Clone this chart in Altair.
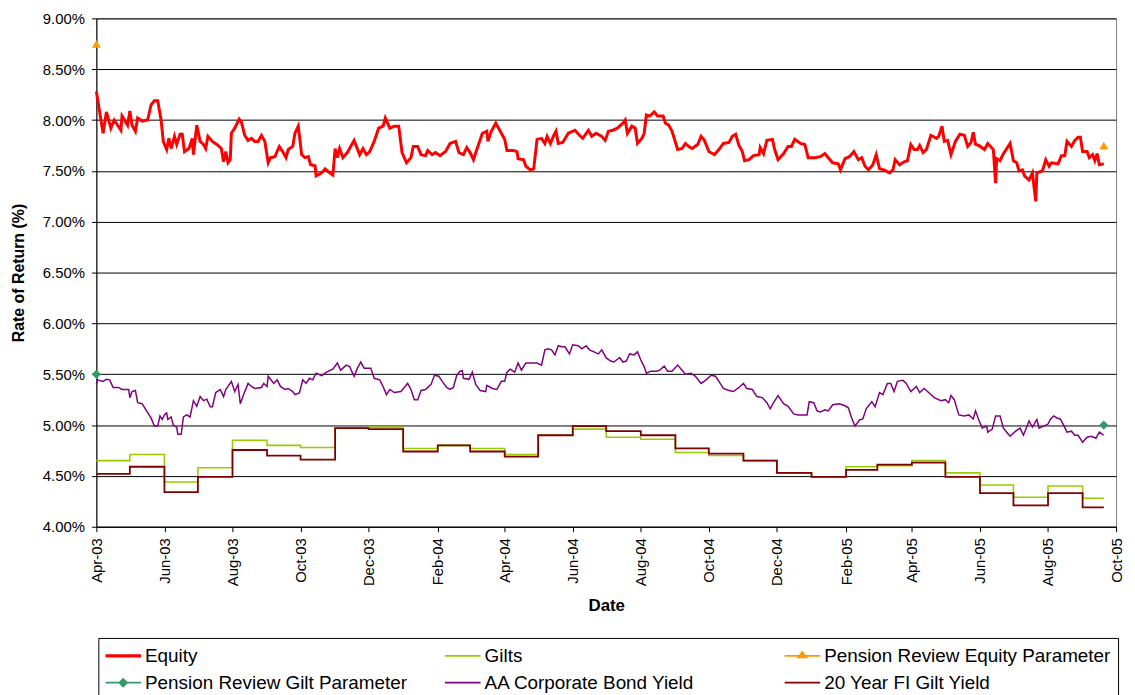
import altair as alt
import pandas as pd

START = "2003-04-01"
END_DATE = "2005-09-20"

series_names = ["Equity", "Gilts", "Pension Review Equity Parameter",
                "Pension Review Gilt Parameter", "AA Corporate Bond Yield",
                "20 Year FI Gilt Yield"]
series_colors = ["#FF0000", "#99CC00", "#FF9900", "#339966", "#800080", "#800000"]

# Equity: days since 2003-04-01 and rate (%)
equity_days = [0, 6, 9, 13, 16, 22, 23, 28, 30, 32, 35, 37, 41, 46, 49, 52, 55, 58, 60, 63,
               65, 67, 70, 72, 75, 77, 79, 83, 86, 87, 90, 93, 96, 98, 100, 104, 108, 112, 114, 116,
               118, 120, 121, 124, 128, 130, 133, 136, 139, 142, 145, 148, 151, 154, 156, 160, 164, 167, 170, 172,
               176, 178, 181, 184, 187, 190, 192, 196, 197, 202, 205, 208, 212, 214, 216, 218, 221, 225, 231, 236,
               239, 242, 245, 249, 253, 257, 259, 263, 267, 271, 274, 278, 282, 284, 288, 291, 295, 297, 301, 304,
               308, 313, 317, 322, 325, 329, 332, 335, 338, 341, 346, 350, 351, 354, 358, 362, 366, 368, 374, 377,
               378, 383, 385, 389, 392, 395, 399, 402, 404, 407, 410, 412, 414, 418, 423, 429, 433, 436, 441, 444,
               448, 453, 456, 459, 463, 467, 472, 474, 476, 480, 483, 485, 489, 491, 493, 496, 500, 503, 508, 510,
               513, 516, 521, 525, 528, 531, 534, 539, 542, 545, 549, 554, 558, 562, 567, 570, 573, 576, 579, 581,
               585, 589, 594, 595, 598, 601, 606, 608, 611, 616, 620, 623, 626, 631, 635, 638, 644, 649, 653, 656,
               660, 665, 667, 671, 675, 679, 683, 686, 689, 692, 696, 699, 702, 706, 711, 714, 716, 720, 724, 727,
               730, 733, 736, 738, 741, 744, 748, 753, 755, 758, 760, 763, 766, 770, 774, 778, 781, 784, 786, 788,
               791, 796, 799, 804, 806, 807, 810, 813, 819, 822, 825, 827, 830, 832, 836, 839, 842, 843, 848, 851,
               854, 856, 862, 865, 868, 870, 874, 877, 880, 882, 884, 888, 890, 893, 895, 897, 899, 903]
equity_vals = [8.28, 7.87, 8.08, 7.92, 8.00, 7.90, 8.04, 7.95, 8.09, 7.95, 7.89, 8.02, 7.99, 8.00, 8.15, 8.19, 8.19, 8.00, 7.79, 7.71,
               7.82, 7.72, 7.84, 7.76, 7.86, 7.86, 7.69, 7.72, 7.82, 7.66, 7.95, 7.79, 7.76, 7.72, 7.84, 7.79, 7.76, 7.72, 7.59, 7.69,
               7.58, 7.61, 7.87, 7.92, 8.01, 7.98, 7.85, 7.80, 7.82, 7.79, 7.79, 7.85, 7.79, 7.58, 7.63, 7.64, 7.74, 7.69, 7.63, 7.71,
               7.74, 7.87, 7.94, 7.66, 7.63, 7.64, 7.56, 7.55, 7.45, 7.48, 7.52, 7.49, 7.46, 7.72, 7.63, 7.72, 7.63, 7.68, 7.80, 7.66,
               7.72, 7.66, 7.69, 7.79, 7.92, 7.94, 8.02, 7.92, 7.94, 7.94, 7.68, 7.58, 7.63, 7.74, 7.74, 7.66, 7.65, 7.70, 7.66, 7.68,
               7.65, 7.69, 7.77, 7.79, 7.68, 7.66, 7.73, 7.68, 7.61, 7.71, 7.87, 7.89, 7.79, 7.89, 7.97, 7.89, 7.81, 7.70, 7.70, 7.69,
               7.62, 7.61, 7.545, 7.51, 7.52, 7.81, 7.82, 7.77, 7.84, 7.77, 7.85, 7.89, 7.77, 7.78, 7.87, 7.90, 7.85, 7.82, 7.90, 7.84,
               7.87, 7.84, 7.80, 7.89, 7.90, 7.92, 7.97, 8.00, 7.87, 7.94, 7.92, 7.77, 7.82, 7.87, 8.05, 8.04, 8.08, 8.04, 8.04, 7.97,
               7.95, 7.89, 7.71, 7.72, 7.77, 7.74, 7.72, 7.76, 7.84, 7.80, 7.69, 7.66, 7.71, 7.77, 7.78, 7.84, 7.86, 7.75, 7.69, 7.60,
               7.61, 7.65, 7.66, 7.73, 7.67, 7.80, 7.81, 7.71, 7.61, 7.67, 7.74, 7.74, 7.81, 7.77, 7.76, 7.63, 7.63, 7.64, 7.67, 7.63,
               7.58, 7.57, 7.51, 7.62, 7.64, 7.69, 7.61, 7.63, 7.545, 7.51, 7.56, 7.66, 7.52, 7.51, 7.48, 7.51, 7.61, 7.56, 7.59, 7.60,
               7.76, 7.71, 7.71, 7.75, 7.68, 7.71, 7.85, 7.82, 7.84, 7.94, 7.79, 7.80, 7.66, 7.79, 7.86, 7.85, 7.74, 7.78, 7.88, 7.76,
               7.75, 7.71, 7.77, 7.71, 7.38, 7.62, 7.60, 7.67, 7.77, 7.60, 7.58, 7.50, 7.51, 7.45, 7.41, 7.48, 7.20, 7.48, 7.50, 7.61,
               7.545, 7.58, 7.57, 7.65, 7.65, 7.79, 7.74, 7.80, 7.83, 7.83, 7.69, 7.69, 7.63, 7.66, 7.60, 7.67, 7.56, 7.57]

# AA Corporate Bond Yield: days since 2003-04-01 and rate (%)
aa_days = [0, 1, 6, 9, 12, 15, 20, 23, 29, 30, 32, 35, 37, 41, 45, 49, 52, 55, 57, 59,
           61, 63, 64, 67, 69, 72, 73, 76, 78, 81, 84, 87, 90, 93, 96, 99, 102, 104, 107, 111,
           114, 116, 118, 121, 124, 127, 129, 132, 136, 139, 142, 148, 150, 153, 154, 159, 162, 165, 169, 172,
           176, 178, 182, 185, 188, 191, 194, 197, 202, 205, 208, 212, 216, 219, 224, 227, 231, 234, 237, 240,
           246, 249, 254, 257, 260, 263, 267, 273, 279, 282, 285, 288, 291, 295, 300, 303, 307, 310, 314, 317,
           320, 323, 326, 328, 329, 334, 337, 340, 344, 349, 350, 355, 359, 363, 366, 368, 371, 375, 378, 381,
           385, 389, 395, 399, 402, 405, 408, 411, 414, 417, 420, 424, 427, 432, 435, 439, 442, 446, 450, 453,
           457, 461, 464, 469, 472, 475, 478, 482, 485, 488, 491, 493, 497, 502, 505, 509, 512, 516, 521, 525,
           528, 533, 537, 542, 546, 551, 555, 558, 562, 567, 571, 576, 580, 583, 588, 592, 597, 601, 604, 607,
           611, 616, 620, 625, 629, 637, 639, 643, 646, 649, 653, 656, 660, 666, 671, 674, 677, 680, 684, 687,
           690, 695, 698, 702, 705, 709, 712, 715, 718, 723, 726, 730, 735, 738, 742, 747, 751, 757, 761, 764,
           766, 769, 773, 778, 782, 786, 788, 791, 794, 798, 799, 803, 806, 810, 813, 816, 819, 824, 828, 831,
           836, 839, 843, 845, 849, 853, 855, 858, 861, 864, 867, 870, 874, 877, 880, 884, 888, 892, 896, 899,
           903]
aa_vals = [5.40, 5.445, 5.43, 5.45, 5.445, 5.37, 5.37, 5.35, 5.35, 5.27, 5.33, 5.34, 5.22, 5.21, 5.14, 5.07, 4.99, 4.99, 5.09, 5.055,
           5.10, 5.12, 5.055, 5.08, 5.00, 4.98, 4.91, 4.91, 5.08, 5.10, 5.08, 5.24, 5.185, 5.28, 5.24, 5.255, 5.18, 5.18, 5.32, 5.35,
           5.28, 5.35, 5.38, 5.43, 5.33, 5.40, 5.21, 5.30, 5.41, 5.38, 5.36, 5.37, 5.41, 5.38, 5.48, 5.41, 5.445, 5.38, 5.35, 5.36,
           5.33, 5.30, 5.315, 5.445, 5.41, 5.46, 5.445, 5.51, 5.485, 5.51, 5.53, 5.55, 5.61, 5.54, 5.59, 5.575, 5.48, 5.56, 5.62, 5.56,
           5.56, 5.46, 5.445, 5.38, 5.30, 5.35, 5.32, 5.33, 5.41, 5.35, 5.25, 5.25, 5.34, 5.35, 5.40, 5.49, 5.48, 5.43, 5.37, 5.35,
           5.37, 5.49, 5.53, 5.535, 5.46, 5.45, 5.52, 5.40, 5.34, 5.33, 5.39, 5.36, 5.35, 5.43, 5.43, 5.52, 5.55, 5.52, 5.61, 5.54,
           5.61, 5.61, 5.61, 5.59, 5.74, 5.75, 5.74, 5.69, 5.78, 5.77, 5.77, 5.70, 5.79, 5.78, 5.75, 5.78, 5.74, 5.72, 5.70, 5.74,
           5.66, 5.63, 5.62, 5.665, 5.62, 5.63, 5.70, 5.69, 5.72, 5.64, 5.575, 5.51, 5.53, 5.53, 5.54, 5.58, 5.53, 5.53, 5.59, 5.54,
           5.50, 5.51, 5.48, 5.41, 5.44, 5.49, 5.48, 5.43, 5.36, 5.34, 5.33, 5.37, 5.41, 5.36, 5.35, 5.28, 5.27, 5.22, 5.16, 5.22,
           5.29, 5.21, 5.185, 5.11, 5.10, 5.10, 5.23, 5.22, 5.14, 5.13, 5.15, 5.14, 5.20, 5.21, 5.19, 5.17, 5.07, 4.99, 5.05, 5.06,
           5.16, 5.23, 5.18, 5.32, 5.30, 5.41, 5.41, 5.33, 5.43, 5.44, 5.41, 5.33, 5.38, 5.32, 5.36, 5.31, 5.27, 5.24, 5.25, 5.22,
           5.29, 5.25, 5.10, 5.09, 5.10, 5.06, 5.14, 5.05, 4.97, 4.99, 4.93, 4.96, 5.09, 5.09, 4.97, 4.93, 4.89, 4.94, 4.97, 4.90,
           5.04, 4.98, 5.055, 4.97, 4.99, 5.01, 5.055, 5.09, 5.07, 5.06, 5.00, 4.93, 4.94, 4.90, 4.90, 4.83, 4.88, 4.89, 4.87, 4.93,
           4.90]

# Monthly (step) series: value in force from the start of each month
month_starts = ["2003-04-01", "2003-05-01", "2003-06-01", "2003-07-01", "2003-08-01", "2003-09-01",
                "2003-10-01", "2003-11-01", "2003-12-01", "2004-01-01", "2004-02-01", "2004-03-01",
                "2004-04-01", "2004-05-01", "2004-06-01", "2004-07-01", "2004-08-01", "2004-09-01",
                "2004-10-01", "2004-11-01", "2004-12-01", "2005-01-01", "2005-02-01", "2005-03-01",
                "2005-04-01", "2005-05-01", "2005-06-01", "2005-07-01", "2005-08-01", "2005-09-01"]
gilts_vals = [4.65, 4.71, 4.44, 4.58, 4.85, 4.80, 4.78, 4.97, 4.98, 4.77, 4.80, 4.77, 4.71, 4.90, 4.96,
              4.88, 4.86, 4.73, 4.70, 4.65, 4.53, 4.49, 4.59, 4.60, 4.65, 4.53, 4.41, 4.29, 4.40, 4.28]
fi20_vals = [4.52, 4.59, 4.34, 4.49, 4.755, 4.70, 4.66, 4.97, 4.96, 4.74, 4.80, 4.74, 4.69, 4.90, 4.99,
             4.94, 4.90, 4.77, 4.72, 4.65, 4.53, 4.49, 4.56, 4.61, 4.63, 4.49, 4.33, 4.21, 4.33, 4.19]

pr_dates = ["2003-04-01", END_DATE]
pr_equity_vals = [8.75, 7.75]
pr_gilt_vals = [5.50, 5.00]

y_ticks = [4.0, 4.5, 5.0, 5.5, 6.0, 6.5, 7.0, 7.5, 8.0, 8.5, 9.0]
x_tick_months = [(2003, 4), (2003, 6), (2003, 8), (2003, 10), (2003, 12), (2004, 2), (2004, 4),
                 (2004, 6), (2004, 8), (2004, 10), (2004, 12), (2005, 2), (2005, 4), (2005, 6),
                 (2005, 8), (2005, 10)]

assert len(equity_days) == len(equity_vals)
assert len(aa_days) == len(aa_vals)

# Legend symbols: line (+ marker) glyphs as custom paths
thin = "M-1,-0.045H1V0.045H-1Z"
legend_shapes = [
    "M-1,-0.09H1V0.09H-1Z",
    thin,
    thin + "M-0.33,0.14L0,-0.3L0.33,0.14Z",
    thin + "M0,-0.28L0.28,0L0,0.28L-0.28,0Z",
    thin,
    thin,
]


def day_frame(days, vals, name):
    d = pd.Timestamp(START) + pd.to_timedelta(days, unit="D")
    return pd.DataFrame({"date": d.strftime("%Y-%m-%d"), "value": vals, "series": name})


def step_frame(vals, name):
    dates = month_starts + [END_DATE]
    return pd.DataFrame({"date": dates, "value": vals + [vals[-1]], "series": name})


eq_df = day_frame(equity_days, equity_vals, series_names[0])
aa_df = day_frame(aa_days, aa_vals, series_names[4])
gilt_df = step_frame(gilts_vals, series_names[1])
fi_df = step_frame(fi20_vals, series_names[5])
pre_df = pd.DataFrame({"date": pr_dates, "value": pr_equity_vals, "series": series_names[2]})
prg_df = pd.DataFrame({"date": pr_dates, "value": pr_gilt_vals, "series": series_names[3]})

FONT = "Liberation Sans"

x_enc = alt.X(
    "date:T",
    scale=alt.Scale(type="utc",
                    domain=[alt.DateTime(year=2003, month=4, date=1, utc=True),
                            alt.DateTime(year=2005, month=10, date=1, utc=True)]),
    axis=alt.Axis(values=[alt.DateTime(year=y, month=m, date=1, utc=True) for y, m in x_tick_months],
                  format="%b-%y", labelAngle=270, grid=False, title="Date",
                  titleFontSize=17, titleFontWeight="bold", titlePadding=12,
                  labelFontSize=15, labelPadding=6, tickSize=5,
                  domainColor="#000000", tickColor="#000000", labelColor="#000000",
                  titleColor="#000000"),
)
y_enc = alt.Y(
    "value:Q",
    scale=alt.Scale(domain=[4, 9], nice=False, zero=False),
    axis=alt.Axis(values=y_ticks, labelExpr="format(datum.value, '.2f') + '%'",
                  title="Rate of Return (%)", titleFontSize=16, titleFontWeight="bold",
                  titlePadding=16, labelFontSize=15, labelPadding=7, tickSize=5,
                  grid=True, gridColor="#000000", gridWidth=1,
                  domainColor="#000000", tickColor="#000000", labelColor="#000000",
                  titleColor="#000000"),
)
color_scale = alt.Scale(domain=series_names, range=series_colors)


def line_layer(df, width, interp="linear"):
    return alt.Chart(df).mark_line(strokeWidth=width, interpolate=interp).encode(
        x=x_enc, y=y_enc,
        color=alt.Color("series:N", scale=color_scale, legend=None),
    )


eq_line = line_layer(eq_df, 3)
gilt_line = line_layer(gilt_df, 1.6, "step-after")
aa_line = line_layer(aa_df, 1.5)
fi_line = line_layer(fi_df, 1.8, "step-after")

pre_pts = alt.Chart(pre_df).mark_point(filled=True, shape="triangle-up", size=80, opacity=1).encode(
    x=x_enc, y=y_enc, color=alt.Color("series:N", scale=color_scale, legend=None))
prg_pts = alt.Chart(prg_df).mark_point(filled=True, shape="diamond", size=85, opacity=1).encode(
    x=x_enc, y=y_enc, color=alt.Color("series:N", scale=color_scale, legend=None))

legend_def = alt.Legend(
    title=None, orient="none", legendX=2, legendY=624, columns=3, direction="horizontal",
    gridAlign="all", columnPadding=13, rowPadding=5, padding=7, clipHeight=22,
    fillColor="#FFFFFF", strokeColor="#000000",
    labelFont=FONT, labelFontSize=19, labelColor="#000000", labelLimit=500, labelOffset=4,
    symbolSize=1296, symbolStrokeWidth=0, symbolOpacity=1,
)
# legend-only layer (draws no marks); placed first so its legend settings win the merge
legend_layer = alt.Chart(pre_df).transform_filter("false").mark_point(
    filled=True, opacity=1, size=1296).encode(
    x=x_enc, y=y_enc,
    color=alt.Color("series:N", scale=color_scale, legend=legend_def),
    shape=alt.Shape("series:N", scale=alt.Scale(domain=series_names, range=legend_shapes),
                    legend=legend_def),
)

chart = alt.layer(
    legend_layer, eq_line, gilt_line, aa_line, fi_line, pre_pts, prg_pts
).properties(
    width=1027, height=512,
    padding={"left": 89, "top": 8, "right": 11, "bottom": 167},
    autosize=alt.AutoSizeParams(type="none"),
).configure(font=FONT).configure_view(stroke="#808080", strokeWidth=1)

chart.save("out.html", embed_options={"renderer": "svg", "actions": False})
